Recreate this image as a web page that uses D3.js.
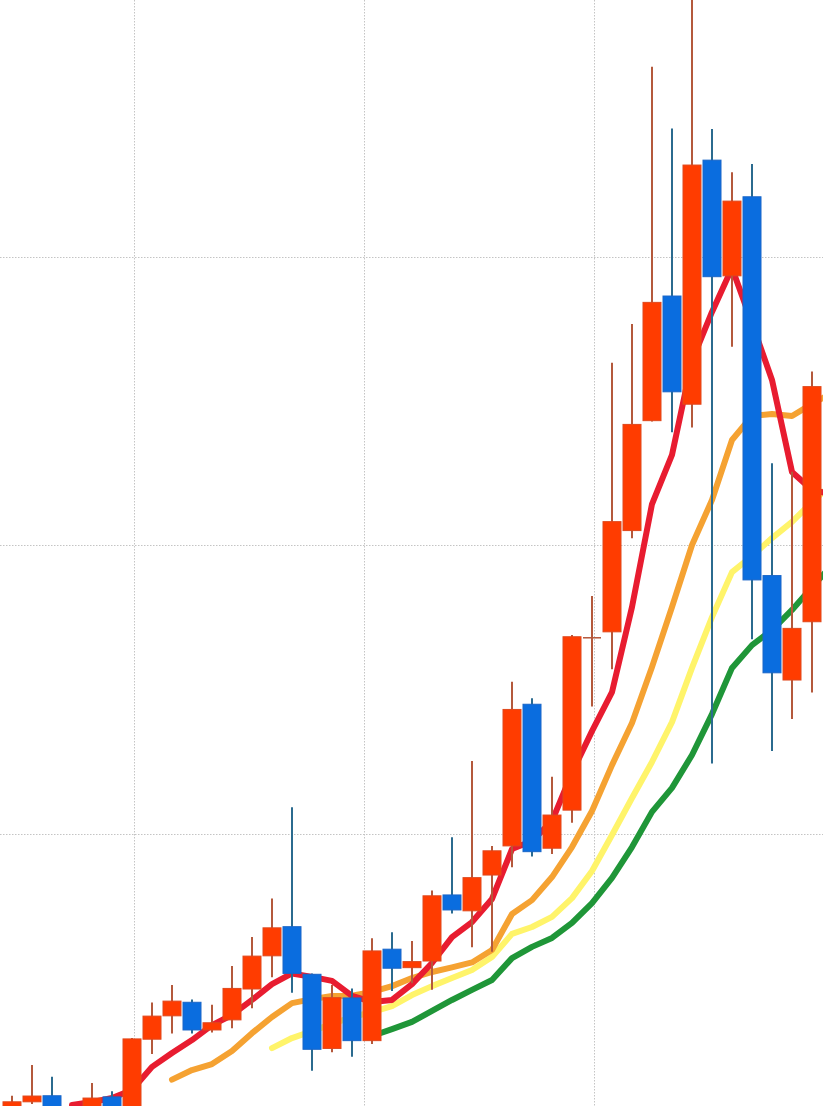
<!DOCTYPE html>
<html>
<head>
<meta charset="utf-8">
<script src="https://cdn.jsdelivr.net/npm/d3@7"></script>
<style>
  html, body { margin: 0; padding: 0; background: #ffffff; overflow: hidden; }
  svg { display: block; }
</style>
</head>
<body>
<div id="chart"></div>
<script>
// ---- data (candle index 0..40; MA arrays include one extra point past the right edge) ----
const opens  = [0.42,0.70,0.91,0.24,0.42,0.87,0.35,2.87,3.68,4.15,3.19,3.54,4.61,5.76,6.77,5.12,2.55,4.30,2.82,5.99,5.35,5.58,7.87,7.32,8.56,9.57,14.48,9.49,10.81,16.79,16.99,20.50,24.31,28.63,24.88,33.34,29.33,32.07,18.94,15.32,17.34];
const highs  = [0.91,1.98,1.57,0.52,1.35,1.07,2.91,4.14,4.75,4.25,4.06,5.41,6.41,7.75,10.91,5.15,4.75,4.63,6.37,6.58,6.27,8.02,9.87,12.51,9.57,15.26,14.69,11.97,16.88,18.23,26.32,27.66,36.58,34.44,39.24,34.42,32.92,33.21,22.83,22.54,26.01];
const lows   = [0.28,0.62,0.21,0.14,0.28,0.31,0.28,2.36,3.07,3.07,3.10,3.25,3.94,5.02,4.48,1.78,2.42,2.26,2.70,4.54,4.81,4.58,7.23,6.06,5.90,8.83,9.20,9.29,10.37,14.40,15.69,20.23,24.28,23.91,24.07,12.43,26.87,16.73,12.86,13.97,14.89];
const closes = [0.70,0.90,0.35,0.45,0.83,0.42,2.88,3.67,4.19,3.19,3.44,4.63,5.75,6.73,5.15,2.52,4.31,2.82,5.93,5.33,5.56,7.84,7.35,8.47,9.40,14.30,9.37,10.64,16.82,16.81,20.81,24.18,28.41,25.31,33.17,29.30,31.92,18.79,15.57,17.11,25.49];

const ma5  = [null,null,null,0.59,0.69,0.83,1.11,1.91,2.39,2.84,3.36,3.71,4.23,4.78,5.15,5.03,4.89,4.37,4.16,4.23,4.78,5.51,6.41,6.93,7.73,9.46,9.74,10.43,12.10,13.55,14.90,17.85,21.42,23.12,26.38,28.08,29.60,27.69,25.72,22.53,21.91,21.75];
const ma10 = [null,null,null,null,null,null,null,null,1.47,1.80,2.01,2.46,3.08,3.64,4.12,4.26,4.37,4.38,4.51,4.71,4.99,5.20,5.36,5.53,5.96,7.21,7.69,8.49,9.53,10.78,12.37,13.83,15.77,17.85,20.00,21.56,23.64,24.47,24.54,24.47,24.89,25.27];
const ma15 = [null,null,null,null,null,null,null,null,null,null,null,null,null,2.56,2.91,3.15,3.40,3.64,3.81,4.02,4.40,4.71,4.99,5.27,5.72,6.52,6.76,7.11,7.76,8.70,9.95,11.23,12.48,13.86,15.74,17.50,19.06,19.62,20.24,20.80,21.49,22.11];
const ma20 = [null,null,null,null,null,null,null,null,null,null,null,null,null,null,null,null,null,null,2.98,3.22,3.47,3.85,4.23,4.58,4.92,5.68,6.07,6.38,6.90,7.59,8.46,9.53,10.75,11.58,12.72,14.14,15.74,16.53,17.05,17.75,18.54,19.31];

const xGridTicks = [6.12, 17.6, 29.08];   // vertical grid positions (candle-index units)
const yGridTicks = [10, 20, 30];          // horizontal grid values

// ---- layout ----
const W = 823, H = 1106;
const x = d3.scaleLinear().domain([0, 40]).range([12, 812]);
const y = d3.scaleLinear().domain([0, 40]).range([1122, -32]);
const bodyW = 18;

const UP = "#ff3c00", DOWN = "#0a6ddf";
const UP_WICK = "#b4593c", DOWN_WICK = "#2b6b8f";

const svg = d3.select("#chart").append("svg")
  .attr("width", W).attr("height", H).attr("viewBox", `0 0 ${W} ${H}`);

// grid
const grid = svg.append("g").attr("class", "grid");
grid.selectAll("line.v").data(xGridTicks).join("line")
  .attr("class", "v")
  .attr("x1", d => Math.round(x(d)) + 0.5).attr("x2", d => Math.round(x(d)) + 0.5)
  .attr("y1", 0).attr("y2", H)
  .attr("stroke", "#c4c4c4").attr("stroke-width", 1).attr("stroke-dasharray", "1.5,1.5");
grid.selectAll("line.h").data(yGridTicks).join("line")
  .attr("class", "h")
  .attr("y1", d => Math.round(y(d)) + 0.5).attr("y2", d => Math.round(y(d)) + 0.5)
  .attr("x1", 0).attr("x2", W)
  .attr("stroke", "#c4c4c4").attr("stroke-width", 1).attr("stroke-dasharray", "1.5,1.5");

// moving averages (drawn beneath candles)
const maSeries = [
  { name: "MA20", values: ma20, color: "#1f9638" },
  { name: "MA15", values: ma15, color: "#fff46a" },
  { name: "MA10", values: ma10, color: "#f5a232" },
  { name: "MA5",  values: ma5,  color: "#e81c30" }
];
const line = d3.line()
  .defined(d => d != null)
  .x((d, i) => x(i))
  .y(d => y(d));
svg.append("g").attr("class", "ma").selectAll("path").data(maSeries).join("path")
  .attr("d", s => line(s.values))
  .attr("fill", "none")
  .attr("stroke", s => s.color)
  .attr("stroke-width", 6)
  .attr("stroke-linejoin", "round")
  .attr("stroke-linecap", "round");

// candles
const candles = opens.map((o, i) => ({ i, o, h: highs[i], l: lows[i], c: closes[i] }));
const cg = svg.append("g").attr("class", "candles");
const g = cg.selectAll("g").data(candles).join("g");
g.append("line")
  .attr("x1", d => x(d.i)).attr("x2", d => x(d.i))
  .attr("y1", d => y(d.h)).attr("y2", d => y(d.l))
  .attr("stroke", d => d.c >= d.o ? UP_WICK : DOWN_WICK)
  .attr("stroke-width", 2);
g.append("rect")
  .attr("x", d => x(d.i) - bodyW / 2)
  .attr("width", bodyW)
  .attr("y", d => y(Math.max(d.o, d.c)))
  .attr("height", d => Math.max(1.5, Math.abs(y(d.o) - y(d.c))))
  .attr("fill", d => Math.abs(y(d.o) - y(d.c)) < 2 ? UP_WICK : (d.c >= d.o ? UP : DOWN))
  .attr("stroke", d => d.c >= d.o ? "#e0481c" : "#1a66c8")
  .attr("stroke-width", d => Math.abs(y(d.o) - y(d.c)) < 2 ? 0 : 1);
</script>
</body>
</html>
